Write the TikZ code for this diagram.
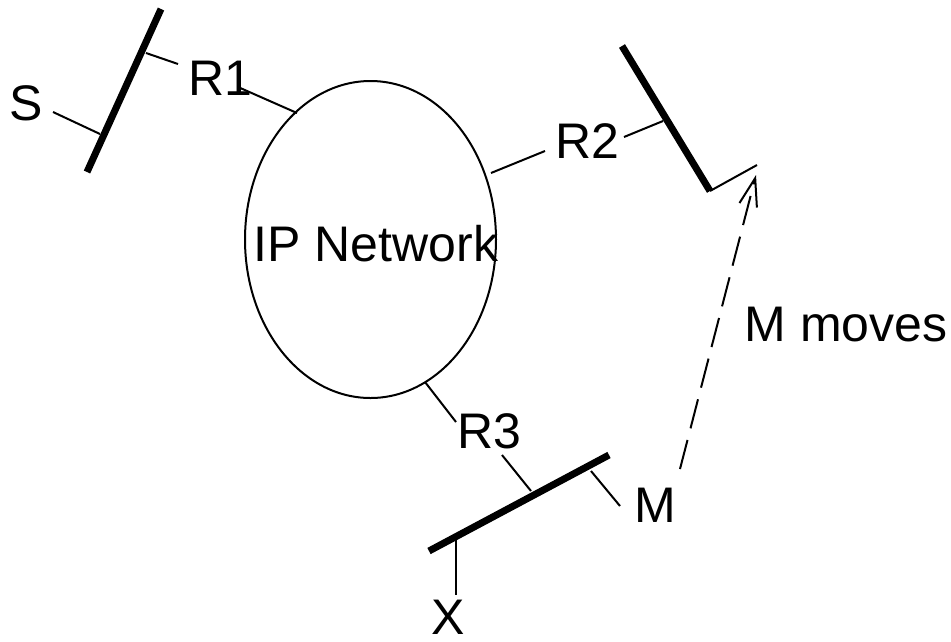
\documentclass[tikz,border=0pt]{standalone}
\usepackage{fontspec}
\setmainfont{Liberation Sans}
\usetikzlibrary{shapes.geometric,arrows.meta}
\begin{document}
\begin{tikzpicture}[x=1pt,y=-1pt,
  lbl/.style={inner sep=0pt,font=\fontsize{50}{60}\selectfont},
  wire/.style={line width=2pt},
  seg/.style={line width=7pt},
  moveline/.style={line width=2pt,dash pattern=on 30pt off 12pt,-{Straight Barb[length=28pt,width=18pt,line width=2pt]}}]
\useasboundingbox (0,0) rectangle (951,641);
% network
\node[draw,ellipse,line width=2pt,minimum width=251pt,minimum height=317pt,inner sep=0pt] (net) at (370.5,239.5) {};
\node[lbl] (ip) at (376,243.5) {IP Network};
% labels
\node[lbl] (S) at (26,103) {S};
\node[lbl] (R1) at (220,78) {R1};
\node[lbl] (R2) at (587,141) {R2};
\node[lbl] (R3) at (489,431) {R3};
\node[lbl] (M) at (655,505) {M};
\node[lbl] (X) at (448,617) {X};
\node[lbl] (moves) at (846,325) {M moves};
% segment 1 (S, R1)
\coordinate (l1a) at (161,9);
\coordinate (l1b) at (87,172);
\draw[seg] (l1a) -- (l1b);
\coordinate (r1on) at (146,53);
\coordinate (r1end) at (178,64);
\draw[wire] (r1on) -- (r1end);
\coordinate (son) at (100,134);
\coordinate (send) at (53,112);
\draw[wire] (son) -- (send);
\coordinate (r1a) at (238,87);
\coordinate (r1b) at (297,113);
\draw[wire] (r1a) -- (r1b);
% segment 2 (R2)
\coordinate (l2a) at (622,46);
\coordinate (l2b) at (710,191);
\coordinate (l2c) at (757,165);
\draw[seg] (l2a) -- (l2b);
\draw[wire] (l2b) -- (l2c);
\coordinate (r2on) at (663,121);
\coordinate (r2end) at (624,137);
\draw[wire] (r2on) -- (r2end);
\coordinate (r2a) at (545,151);
\coordinate (r2b) at (491,173);
\draw[wire] (r2a) -- (r2b);
% segment 3 (R3, M, X)
\coordinate (l3a) at (429,551);
\coordinate (l3b) at (609,455);
\draw[seg] (l3a) -- (l3b);
\coordinate (r3a) at (425,382);
\coordinate (r3b) at (456,422);
\draw[wire] (r3a) -- (r3b);
\coordinate (r3on) at (531,491);
\coordinate (r3end) at (502,455);
\draw[wire] (r3on) -- (r3end);
\coordinate (mon) at (591,471);
\coordinate (mend) at (620,506);
\draw[wire] (mon) -- (mend);
\coordinate (xon) at (456,540);
\coordinate (xend) at (456,595);
\draw[wire] (xon) -- (xend);
% movement
\coordinate (mvs) at (680,469);
\coordinate (mvt) at (756,175);
\draw[moveline] (mvs) -- (mvt);
\end{tikzpicture}
\end{document}
